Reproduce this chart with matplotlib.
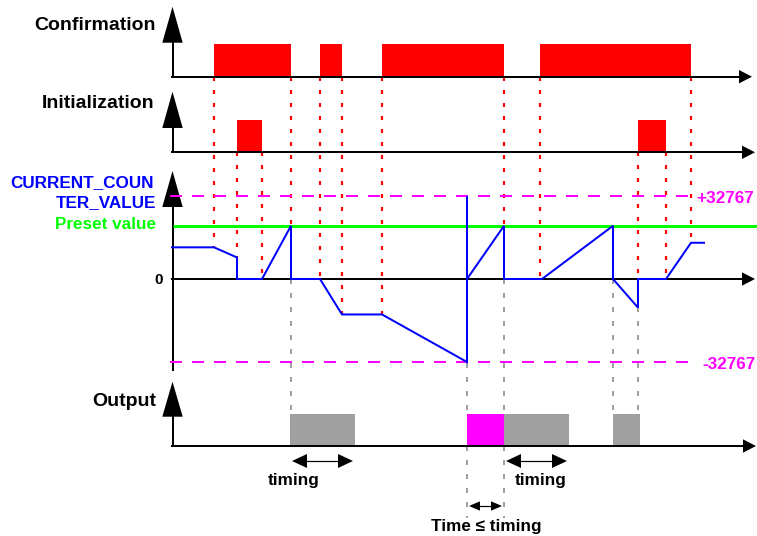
import matplotlib
matplotlib.use('Agg')
import matplotlib.pyplot as plt
from matplotlib.patches import Polygon

plt.rcParams['font.family'] = ['Liberation Sans', 'DejaVu Sans']
plt.rcParams['lines.scale_dashes'] = False

# ---------------- data ----------------
conf_on = [214, 320, 382, 540]
conf_off = [291, 342, 504, 691]
init_on = [237, 638]
init_off = [262, 666]
counter_t = [172, 214, 237, 237, 262, 291, 291, 320, 342, 382, 467, 467, 467,
             504, 504, 542, 613, 613, 638, 638, 666, 691, 704]
counter_v = [12500, 12500, 8500, 0, 0, 21000, 0, 0, -14000, -14000, -32767, 32767, 0,
             21000, 0, 0, 21000, 0, -11300, 0, 0, 14300, 14300]
preset_value = 21000
counter_limit = 32767
out_on = [290, 467, 504, 613]
out_off = [355, 504, 569, 640]
out_kind = ['timing', 'short', 'timing', 'timing']
red_guides_conf = [(214, 12500), (291, 21000), (320, 0), (342, -14000), (382, -14000),
                   (504, 21000), (540, 0), (691, 14300)]
red_guides_init = [(237, 8500), (262, 0), (638, 0), (666, 0)]
gray_guides = [291, 467, 504, 613, 638]
gray_ext_guides = [467, 504]
signal_labels = ['Confirmation', 'Initialization', 'Output']
counter_label = ['CURRENT_COUN', 'TER_VALUE']
preset_label = 'Preset value'
limit_labels = ['+32767', '-32767']
zero_label = '0'
timing_label = 'timing'
short_label = 'Time \u2264 timing'

# ---------------- style ----------------
RED = '#ff0000'
BLUE = '#0000ff'
GREEN = '#00ff00'
MAGENTA = '#ff00ff'
GRAY = '#a0a0a0'
PT = 0.72  # points per pixel at 100 dpi

W, H = 757, 536
fig = plt.figure(figsize=(W / 100, H / 100), dpi=100)

bg = fig.add_axes([0, 0, 1, 1])
bg.set_xlim(0, W)
bg.set_ylim(H, 0)
bg.axis('off')


def panel(top, bottom, lo, hi, z):
    ax = fig.add_axes([0, 1 - bottom / H, 1, (bottom - top) / H])
    ax.set_xlim(0, W)
    ax.set_ylim(lo, hi)
    ax.axis('off')
    ax.set_zorder(z)
    return ax


AXX = 172.5
CONF = dict(top=43.7, base=76.7, tip=6.7, head=42.7, htip=752)
INIT = dict(top=120.3, base=152.3, tip=91.7, head=128, htip=755)
CNT = dict(pos=196, neg=362, tip=171, head=207, bottom=371, htip=755)
OUT = dict(top=413.7, base=446, tip=381.7, head=416.7, htip=756)

conf_ax = panel(CONF['top'], CONF['base'], 0, 1, 1)
init_ax = panel(INIT['top'], INIT['base'], 0, 1, 1)
out_ax = panel(OUT['top'], OUT['base'], 0, 1, 1)
cnt_ax = panel(CNT['pos'], CNT['neg'], -counter_limit, counter_limit, 4)
fg = fig.add_axes([0, 0, 1, 1])
fg.set_xlim(0, W)
fg.set_ylim(H, 0)
fg.axis('off')
fg.set_zorder(3)


def cy(v):
    return bg.transData.inverted().transform(cnt_ax.transData.transform((0, v)))[1]


# pulses
conf_ax.bar(conf_on, 1, width=[b - a for a, b in zip(conf_on, conf_off)], align='edge',
            color=RED, linewidth=0)
init_ax.bar(init_on, 1, width=[b - a for a, b in zip(init_on, init_off)], align='edge',
            color=RED, linewidth=0)
out_colors = [MAGENTA if k == 'short' else GRAY for k in out_kind]
out_ax.bar(out_on, 1, width=[b - a for a, b in zip(out_on, out_off)], align='edge',
           color=out_colors, linewidth=0)

# guides
red_style = dict(color=RED, lw=2.2 * PT, linestyle=(0, (4 * PT, 9 * PT)))
gray_style = dict(color=GRAY, lw=2.0 * PT, linestyle=(0, (5 * PT, 9 * PT)))
for t, v in red_guides_conf:
    bg.plot([t, t], [CONF['base'], cy(v)], **red_style)
for t, v in red_guides_init:
    bg.plot([t, t], [INIT['base'], cy(v)], **red_style)
for t in gray_guides:
    bg.plot([t, t], [cy(0), OUT['top']], **gray_style)
for t in gray_ext_guides:
    bg.plot([t, t], [OUT['base'], 518], **gray_style)

# axes lines and arrowheads
AX_LW = 2.0 * PT


def up_head(tip, base):
    fg.add_patch(Polygon([(AXX, tip), (AXX - 10.2, base), (AXX + 10.2, base)],
                         closed=True, color='black', lw=0))


def right_head(tip, y):
    fg.add_patch(Polygon([(tip, y), (tip - 13, y - 6.7), (tip - 13, y + 6.7)],
                         closed=True, color='black', lw=0))


for P in (CONF, INIT, OUT):
    fg.plot([AXX, AXX], [P['head'] - 1, P['base']], color='black', lw=AX_LW,
            solid_capstyle='butt')
    fg.plot([AXX - 1, P['htip'] - 10], [P['base'], P['base']], color='black', lw=AX_LW)
    up_head(P['tip'], P['head'])
    right_head(P['htip'], P['base'])

zero_y = cy(0)
fg.plot([AXX, AXX], [CNT['head'] - 1, CNT['bottom']], color='black', lw=AX_LW,
        solid_capstyle='butt')
fg.plot([AXX - 1, CNT['htip'] - 10], [zero_y, zero_y], color='black', lw=AX_LW)
up_head(CNT['tip'], CNT['head'])
right_head(CNT['htip'], zero_y)

# counter panel
cnt_ax.hlines(preset_value, AXX, W, color=GREEN, lw=3 * PT)
for lim in (counter_limit, -counter_limit):
    cnt_ax.hlines(lim, 170, 693, color=MAGENTA, lw=2 * PT,
                  linestyle=(0, (12 * PT, 10 * PT)), clip_on=False)
cnt_ax.plot(counter_t, counter_v, color=BLUE, lw=2 * PT, clip_on=False,
            solid_joinstyle='miter')


# timing arrows
def dbl_arrow(x1, x2, y, hl, hh):
    fg.plot([x1 + hl * 0.5, x2 - hl * 0.5], [y, y], color='black', lw=1.2 * PT)
    fg.add_patch(Polygon([(x1, y), (x1 + hl, y - hh), (x1 + hl, y + hh)], closed=True,
                         color='black', lw=0))
    fg.add_patch(Polygon([(x2, y), (x2 - hl, y - hh), (x2 - hl, y + hh)], closed=True,
                         color='black', lw=0))


for a, b, k in zip(out_on, out_off, out_kind):
    if k == 'timing' and b - a > 40:
        dbl_arrow(a + 2, b - 2, 461, 15, 7)
        fg.text((a + b) / 2 + (-29 if a < 400 else 4), 485, timing_label, ha='center',
                va='baseline', fontsize=12.3, fontweight='bold')
    elif k == 'short':
        dbl_arrow(a + 2, b - 2, 506, 11, 4.7)
        fg.text((a + b) / 2 + 1, 531, short_label, ha='center', va='baseline',
                fontsize=12.3, fontweight='bold')

# labels
fg.text(156, 30, signal_labels[0], ha='right', va='baseline', fontsize=14, fontweight='bold')
fg.text(154.5, 108, signal_labels[1], ha='right', va='baseline', fontsize=14, fontweight='bold')
fg.text(156, 406.5, signal_labels[2], ha='right', va='baseline', fontsize=14, fontweight='bold')
fg.text(154, 187, counter_label[0], ha='right', va='baseline', fontsize=12.3,
        fontweight='bold', color=BLUE)
fg.text(155.7, 207, counter_label[1], ha='right', va='baseline', fontsize=12.3,
        fontweight='bold', color=BLUE)
fg.text(155.7, 229.3, preset_label, ha='right', va='baseline', fontsize=12.3,
        fontweight='bold', color=GREEN)
fg.text(163.3, 284, zero_label, ha='right', va='baseline', fontsize=11,
        fontweight='bold', color='black')
fg.text(696.7, 202.7, limit_labels[0], ha='left', va='baseline', fontsize=12.3,
        fontweight='bold', color=MAGENTA)
fg.text(702.5, 369, limit_labels[1], ha='left', va='baseline', fontsize=12.3,
        fontweight='bold', color=MAGENTA)

fig.savefig('out.png', dpi=100, facecolor='white')
